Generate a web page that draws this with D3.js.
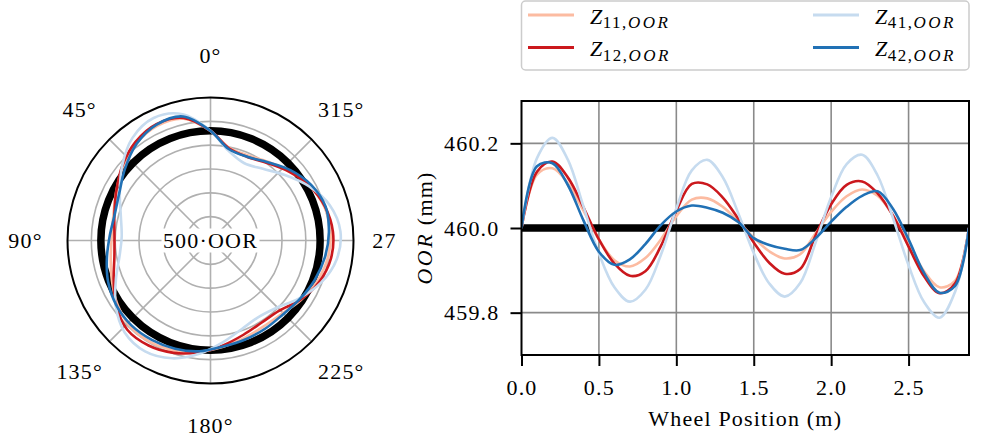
<!DOCTYPE html>
<html>
<head>
<meta charset="utf-8">
<script src="https://cdn.jsdelivr.net/npm/d3@7"></script>
<style>
  body { margin: 0; background: #fff; }
  svg text { font-family: "Liberation Serif", "Times New Roman", serif; fill: #000; letter-spacing: 1.2px; }
</style>
</head>
<body>
<svg id="chart" width="992" height="440"></svg>
<script>
// wheel position along the tread (m), one full turn of a 0.46 m wheel
const wheelRadius = 0.46;
const nominalOOR = 460.0;
const positions = [0, 0.1, 0.2, 0.3, 0.4, 0.5, 0.6, 0.7, 0.8, 0.9, 1.0, 1.1, 1.2, 1.3, 1.4,
  1.5, 1.6, 1.7, 1.8, 1.9, 2.0, 2.1, 2.2, 2.3, 2.4, 2.5, 2.6, 2.7, 2.8, 2.89];

// deviation from the nominal 460 mm (mm)
const devZ11 = [0, 0.126, 0.141, 0.105, 0.041, -0.027, -0.076, -0.091, -0.071, -0.027, 0.028, 0.067, 0.070, 0.050, 0.016,
  -0.023, -0.055, -0.072, -0.062, -0.012, 0.038, 0.075, 0.091, 0.076, 0.029, -0.037, -0.102, -0.140, -0.125, 0];
const devZ12 = [0, 0.133, 0.157, 0.119, 0.049, -0.027, -0.084, -0.113, -0.102, -0.043, 0.041, 0.104, 0.103, 0.072, 0.022,
  -0.034, -0.082, -0.108, -0.097, -0.017, 0.056, 0.102, 0.110, 0.082, 0.029, -0.044, -0.114, -0.154, -0.131, 0];
const devZ41 = [0, 0.165, 0.213, 0.161, 0.051, -0.060, -0.140, -0.174, -0.146, -0.064, 0.046, 0.136, 0.161, 0.120, 0.035,
  -0.059, -0.131, -0.162, -0.130, -0.034, 0.073, 0.151, 0.173, 0.124, 0.023, -0.088, -0.175, -0.212, -0.151, 0];
const devZ42 = [0, 0.146, 0.153, 0.101, 0.018, -0.056, -0.087, -0.074, -0.038, 0.007, 0.039, 0.053, 0.048, 0.036, 0.014,
  -0.024, -0.040, -0.049, -0.052, -0.024, 0.015, 0.050, 0.076, 0.087, 0.045, -0.027, -0.106, -0.153, -0.137, 0];

const seriesNames = ['11', '12', '41', '42'];
const seriesColors = [d3.schemeReds[9][2], d3.schemeReds[9][6], d3.schemeBlues[9][2], d3.schemeBlues[9][6]];

const xTicks = [0, 0.5, 1.0, 1.5, 2.0, 2.5];
const yTicks = [459.8, 460.0, 460.2];
const angleTicks = [0, 45, 90, 135, 180, 225, 270, 315];
const ringTicks = [-0.72, -0.52, -0.32, -0.12, 0.08];

const series = [devZ11, devZ12, devZ41, devZ42].map((vals, i) => ({
  name: seriesNames[i],
  color: seriesColors[i],
  points: vals.map((v, j) => ({ x: positions[j], v })),
}));

const svg = d3.select('#chart');

// ---------- polar panel ----------
const cx = 210.5, cy = 240.5, R = 143;
const rScale = d3.scaleLinear().domain([-0.92, 0.28]).range([0, R]);
const polarGray = '#b0b0b0';

svg.append('clipPath').attr('id', 'labelClip')
  .append('rect').attr('x', 0).attr('y', 0).attr('width', 397).attr('height', 440);

const polar = svg.append('g').attr('transform', `translate(${cx},${cy})`);

polar.selectAll('circle.ring')
  .data(ringTicks)
  .join('circle')
  .attr('class', 'ring')
  .attr('r', (d) => rScale(d))
  .attr('fill', 'none')
  .attr('stroke', polarGray)
  .attr('stroke-width', 1.6);

const toRad = (deg) => (deg * Math.PI) / 180;
polar.selectAll('line.spoke')
  .data(angleTicks)
  .join('line')
  .attr('class', 'spoke')
  .attr('x1', 0).attr('y1', 0)
  .attr('x2', (d) => -R * Math.sin(toRad(d)))
  .attr('y2', (d) => -R * Math.cos(toRad(d)))
  .attr('stroke', polarGray)
  .attr('stroke-width', 1.6);

polar.append('circle')
  .attr('r', rScale(0))
  .attr('fill', 'none')
  .attr('stroke', '#000')
  .attr('stroke-width', 7.5);

const radialLine = d3.lineRadial()
  .angle((d) => -d.x / wheelRadius)
  .radius((d) => rScale(d.v))
  .curve(d3.curveCatmullRomClosed);

polar.selectAll('path.ring-curve')
  .data(series)
  .join('path')
  .attr('class', 'ring-curve')
  .attr('d', (d) => radialLine(d.points.slice(0, -1)))
  .attr('fill', 'none')
  .attr('stroke', (d) => d.color)
  .attr('stroke-width', 2.6);

polar.append('circle')
  .attr('r', R)
  .attr('fill', 'none')
  .attr('stroke', '#000')
  .attr('stroke-width', 2);

// centre label with white box
polar.append('rect')
  .attr('x', -49).attr('y', -12).attr('width', 98).attr('height', 24)
  .attr('fill', '#fff');
polar.append('text')
  .attr('text-anchor', 'middle')
  .attr('dominant-baseline', 'central')
  .attr('font-size', 22)
  .text('500·OOR');

svg.append('g')
  .attr('clip-path', 'url(#labelClip)')
  .selectAll('text')
  .data(angleTicks)
  .join('text')
  .attr('x', (d) => cx - 185 * Math.sin(toRad(d)))
  .attr('y', (d) => cy - 185 * Math.cos(toRad(d)))
  .attr('text-anchor', 'middle')
  .attr('dominant-baseline', 'central')
  .attr('font-size', 22)
  .text((d) => `${d}°`);

// ---------- cartesian panel ----------
const margin = { left: 521.5, right: 969, top: 101, bottom: 355 };
const xScale = d3.scaleLinear()
  .domain([0, 2 * Math.PI * wheelRadius])
  .range([margin.left, margin.right]);
const yScale = d3.scaleLinear()
  .domain([459.7, 460.3])
  .range([margin.bottom, margin.top]);

svg.append('clipPath').attr('id', 'plotClip')
  .append('rect')
  .attr('x', margin.left).attr('y', margin.top)
  .attr('width', margin.right - margin.left)
  .attr('height', margin.bottom - margin.top);

const gridColor = '#8a8a8a';
svg.append('g').selectAll('line')
  .data(xTicks.slice(1))
  .join('line')
  .attr('x1', (d) => xScale(d)).attr('x2', (d) => xScale(d))
  .attr('y1', margin.top).attr('y2', margin.bottom)
  .attr('stroke', gridColor).attr('stroke-width', 1.6);
svg.append('g').selectAll('line')
  .data(yTicks)
  .join('line')
  .attr('x1', margin.left).attr('x2', margin.right)
  .attr('y1', (d) => yScale(d)).attr('y2', (d) => yScale(d))
  .attr('stroke', gridColor).attr('stroke-width', 1.6);

const plot = svg.append('g').attr('clip-path', 'url(#plotClip)');

plot.append('line')
  .attr('x1', xScale(0)).attr('x2', xScale(2 * Math.PI * wheelRadius))
  .attr('y1', yScale(nominalOOR)).attr('y2', yScale(nominalOOR))
  .attr('stroke', '#000').attr('stroke-width', 7.5);

const lineGenerator = d3.line()
  .x((d) => xScale(d.x))
  .y((d) => yScale(nominalOOR + d.v))
  .curve(d3.curveCatmullRom.alpha(0.5));

plot.selectAll('path.line')
  .data(series)
  .join('path')
  .attr('class', 'line')
  .attr('d', (d) => lineGenerator(d.points))
  .attr('fill', 'none')
  .attr('stroke', (d) => d.color)
  .attr('stroke-width', 2.6);

const xAxis = svg.append('g')
  .attr('transform', `translate(0,${margin.bottom})`)
  .call(d3.axisBottom(xScale).tickValues(xTicks).tickFormat(d3.format('.1f')).tickSize(11).tickPadding(13));
const yAxis = svg.append('g')
  .attr('transform', `translate(${margin.left},0)`)
  .call(d3.axisLeft(yScale).tickValues(yTicks).tickFormat(d3.format('.1f')).tickSize(11).tickPadding(11));
[xAxis, yAxis].forEach((ax) => {
  ax.select('.domain').remove();
  ax.selectAll('.tick line').attr('stroke', '#000').attr('stroke-width', 2);
  ax.selectAll('.tick text').attr('font-size', 22).attr('fill', '#000');
  ax.attr('font-family', null).attr('font-size', null);
});

svg.append('rect')
  .attr('x', margin.left).attr('y', margin.top)
  .attr('width', margin.right - margin.left)
  .attr('height', margin.bottom - margin.top)
  .attr('fill', 'none')
  .attr('stroke', '#000')
  .attr('stroke-width', 2);

svg.append('text')
  .attr('x', (margin.left + margin.right) / 2)
  .attr('y', 426)
  .attr('text-anchor', 'middle')
  .attr('font-size', 22)
  .text('Wheel Position (m)');

const yLabel = svg.append('text')
  .attr('transform', `translate(432,${(margin.top + margin.bottom) / 2}) rotate(-90)`)
  .attr('text-anchor', 'middle')
  .attr('font-size', 22);
yLabel.append('tspan').attr('font-style', 'italic').attr('letter-spacing', '2.5px').text('OOR');
yLabel.append('tspan').text(' (mm)');

// ---------- legend ----------
const legend = svg.append('g');
legend.append('rect')
  .attr('x', 521.5).attr('y', 1)
  .attr('width', 447.5).attr('height', 69)
  .attr('rx', 4)
  .attr('fill', '#fff')
  .attr('stroke', '#cccccc')
  .attr('stroke-width', 1.5);

const legendItems = legend.selectAll('g.item')
  .data(series)
  .join('g')
  .attr('class', 'item')
  .attr('transform', (d, i) => `translate(${i < 2 ? 528 : 813},${i % 2 === 0 ? 15 : 47.5})`);

legendItems.append('line')
  .attr('x1', 0).attr('x2', 46)
  .attr('stroke', (d) => d.color)
  .attr('stroke-width', 3);

const legendText = legendItems.append('text')
  .attr('x', 62)
  .attr('y', 8.5)
  .attr('font-size', 22);
legendText.append('tspan').attr('font-style', 'italic').attr('letter-spacing', '0.5px').text('Z');
legendText.append('tspan').attr('font-size', 17).attr('dy', 4.5).attr('letter-spacing', '1.5px').text((d) => `${d.name},`);
legendText.append('tspan').attr('font-size', 17).attr('font-style', 'italic').attr('letter-spacing', '2.5px').text('OOR');
</script>
</body>
</html>
